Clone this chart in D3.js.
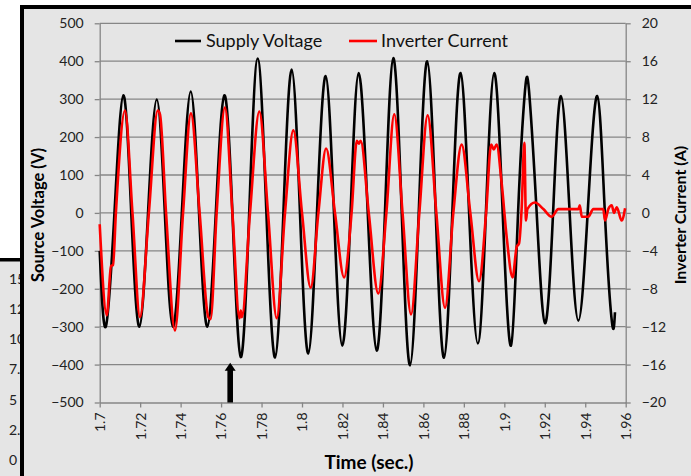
<!DOCTYPE html>
<html>
<head>
<meta charset="utf-8">
<script src="https://cdnjs.cloudflare.com/ajax/libs/d3/7.8.5/d3.min.js"></script>
<style>
  body { margin: 0; background: #fff; }
  svg { display: block; font-family: Lato, "Open Sans", sans-serif; }
</style>
</head>
<body>
<script>
// x axis tick labels (seconds)
const timeTicks = [1.7, 1.72, 1.74, 1.76, 1.78, 1.8, 1.82, 1.84, 1.86, 1.88, 1.9, 1.92, 1.94, 1.96];
// left axis ticks (V)
const voltTicks = [-500, -400, -300, -200, -100, 0, 100, 200, 300, 400, 500];
// right axis ticks (A)
const currentTicks = [-20, -16, -12, -8, -4, 0, 4, 8, 12, 16, 20];

// supply voltage [time, V] (peaks, troughs, crossings)
const supplyVoltage = [
  [1.7000, -100], [1.7030, -300], [1.7073, 0], [1.7117, 310], [1.7156, 0],
  [1.7196, -300], [1.7239, 0], [1.7282, 299], [1.7322, 0], [1.7362, -300],
  [1.7406, 0], [1.7450, 320], [1.7491, 0], [1.7532, -300], [1.7574, 0],
  [1.7616, 310], [1.7656, 0], [1.7697, -380], [1.7739, 0], [1.7781, 407],
  [1.7824, 0], [1.7867, -381], [1.7908, 0], [1.7949, 378], [1.7990, 0],
  [1.8031, -371], [1.8074, 0], [1.8117, 361], [1.8158, 0], [1.8199, -350],
  [1.8240, 0], [1.8280, 369], [1.8325, 0], [1.8369, -363], [1.8410, 0],
  [1.8451, 408], [1.8493, 0], [1.8534, -402], [1.8577, 0], [1.8619, 400],
  [1.8661, 0], [1.8702, -382], [1.8743, 0], [1.8784, 369], [1.8826, 0],
  [1.8869, -344], [1.8909, 0], [1.8950, 369], [1.8992, 0], [1.9033, -350],
  [1.9068, 0], [1.9102, 321], [1.9124, 310], [1.9160, 0], [1.9201, -291],
  [1.9241, 0], [1.9280, 308], [1.9323, 0], [1.9366, -284], [1.9412, 0],
  [1.9459, 308], [1.9497, 0], [1.9532, -288], [1.9547, -262]
];

// inverter current [time, A]
const inverterCurrent = [
  [1.7000, -1.2], [1.7035, -10.8], [1.7056, -5.6], [1.7066, -5.5], [1.7080, 0],
  [1.7125, 10.8], [1.7162, 0], [1.7199, -11.0], [1.7243, 0], [1.7287, 10.8],
  [1.7298, 10.4], [1.7328, 0], [1.7372, -12.4], [1.7412, 0], [1.7451, 10.5],
  [1.7494, 0], [1.7537, -11.0], [1.7548, -11.2], [1.7578, 0], [1.7619, 11.1],
  [1.7656, 0], [1.7691, -11.1], [1.7697, -10.3], [1.7703, -11.0], [1.7743, 0],
  [1.7789, 10.7], [1.7832, 0], [1.7875, -11.1], [1.7916, 0], [1.7957, 8.7],
  [1.8000, 0], [1.8043, -7.9], [1.8081, 0], [1.8119, 6.8], [1.8163, 0],
  [1.8208, -6.8], [1.8245, 0], [1.8271, 7.6], [1.8281, 7.3], [1.8290, 7.6],
  [1.8330, 0], [1.8377, -8.5], [1.8417, 0], [1.8456, 10.4], [1.8497, 0],
  [1.8539, -10.7], [1.8580, 0], [1.8621, 10.3], [1.8664, 0], [1.8707, -10.0],
  [1.8748, 0], [1.8789, 7.2], [1.8832, 0], [1.8875, -7.2], [1.8910, 0],
  [1.8935, 7.2], [1.8948, 6.7], [1.8962, 7.2], [1.8987, 3.1], [1.9012, -2.6],
  [1.9041, -6.8], [1.9061, -3.6], [1.9073, -3.2], [1.9086, 0.6], [1.9099, 7.4],
  [1.9107, -0.8], [1.9114, 0.4], [1.9152, 1.1], [1.9193, 0.4], [1.9234, -0.4],
  [1.9267, 0.4], [1.9366, 0.4], [1.9373, 0.8], [1.9383, -0.4], [1.9415, -0.4],
  [1.9440, 0.4], [1.9489, 0.4], [1.9498, -0.8], [1.9514, 0.4], [1.9531, 0.8],
  [1.9542, 0], [1.9556, 0.6], [1.9580, -0.8], [1.9597, 0.5]
];

// arrow marker time (s)
const arrowTime = 1.7645;

// labels of the chart partly hidden behind this one
const hiddenTicks = [0, 2.5, 5, 7.5, 10, 12.5, 15];

const W = 691, H = 476;
const margin = { left: 99.7, right: 625.7, top: 23.3, bottom: 402.5 };
const grid = "#868686";

const svg = d3.select("body").append("svg").attr("width", W).attr("height", H);

// chart behind (left strip)
svg.append("rect").attr("x", 0).attr("y", 258).attr("width", 24).attr("height", H - 258).attr("fill", "#e5e5e5");
svg.append("rect").attr("x", 0).attr("y", 258).attr("width", 24).attr("height", 3.5).attr("fill", "#000");
const yHidden = d3.scaleLinear().domain([0, 15]).range([460, 279]);
svg.append("g").selectAll("text").data(hiddenTicks).enter().append("text")
  .attr("x", 9).attr("y", d => yHidden(d)).attr("dy", "0.35em")
  .style("font-size", "14px").style("fill", "#222")
  .text(d => d);

// main chart frame
svg.append("rect").attr("x", 22).attr("y", 7).attr("width", W).attr("height", H)
  .attr("fill", "#e5e5e5").attr("stroke", "#000").attr("stroke-width", 4);

const x = d3.scaleLinear().domain([1.7, 1.96]).range([margin.left, margin.right]);
const yV = d3.scaleLinear().domain([-500, 500]).range([margin.bottom, margin.top]);
const yI = d3.scaleLinear().domain([-20, 20]).range([margin.bottom, margin.top]);

// gridlines
svg.append("g").selectAll("line").data(voltTicks.filter(d => d > -500)).enter().append("line")
  .attr("x1", margin.left).attr("x2", margin.right)
  .attr("y1", d => yV(d)).attr("y2", d => yV(d))
  .attr("stroke", grid).attr("stroke-width", 1.3);

function styleAxis(g) {
  g.selectAll(".domain").attr("stroke", grid).attr("stroke-width", 1.3);
  g.selectAll(".tick line").attr("stroke", grid).attr("stroke-width", 1.3);
  g.selectAll("text").style("font-size", "14px").style("fill", "#222").style("font-family", "Lato, sans-serif");
}

svg.append("g").attr("transform", `translate(${margin.left},0)`)
  .call(d3.axisLeft(yV).tickValues(voltTicks).tickSize(5).tickSizeOuter(0).tickPadding(11))
  .call(styleAxis);

svg.append("g").attr("transform", `translate(${margin.right},0)`)
  .call(d3.axisRight(yI).tickValues(currentTicks).tickSize(5).tickSizeOuter(0).tickPadding(11))
  .call(styleAxis);

const xAxis = svg.append("g").attr("transform", `translate(0,${margin.bottom})`)
  .call(d3.axisBottom(x).tickValues(timeTicks).tickFormat(d3.format("")).tickSize(5).tickSizeOuter(0))
  .call(styleAxis);
xAxis.selectAll("text")
  .attr("transform", "rotate(-90)")
  .attr("x", -10).attr("y", 0).attr("dy", "0.35em")
  .style("text-anchor", "end");

// series
const lineV = d3.line().x(d => x(d[0])).y(d => yV(d[1])).curve(d3.curveNatural);
const lineI = d3.line().x(d => x(d[0])).y(d => yI(d[1])).curve(d3.curveMonotoneX);

svg.append("path").datum(supplyVoltage).attr("d", lineV)
  .attr("fill", "none").attr("stroke", "#000").attr("stroke-width", 2.6).attr("stroke-linejoin", "round");
svg.append("path").datum(inverterCurrent).attr("d", lineI)
  .attr("fill", "none").attr("stroke", "#ff0000").attr("stroke-width", 2.6).attr("stroke-linejoin", "round");

// arrow
const ax = x(arrowTime), aTop = yV(-395), aBase = yV(-500);
svg.append("path")
  .attr("d", `M${ax - 2.8},${aBase} L${ax - 2.8},${aTop + 8} L${ax - 5.5},${aTop + 8} L${ax},${aTop} L${ax + 5.5},${aTop + 8} L${ax + 2.8},${aTop + 8} L${ax + 2.8},${aBase} Z`)
  .attr("fill", "#000");

// legend
const legend = svg.append("g").style("font-size", "18px").style("fill", "#111");
legend.append("line").attr("x1", 175).attr("x2", 201).attr("y1", 41).attr("y2", 41).attr("stroke", "#000").attr("stroke-width", 2.6);
legend.append("text").attr("x", 206).attr("y", 41).attr("dy", "0.35em").text("Supply Voltage");
legend.append("line").attr("x1", 349).attr("x2", 377).attr("y1", 41).attr("y2", 41).attr("stroke", "#ff0000").attr("stroke-width", 2.6);
legend.append("text").attr("x", 381).attr("y", 41).attr("dy", "0.35em").text("Inverter Current");

// axis titles
const midY = 215;
svg.append("text").attr("transform", `translate(38.5,${midY}) rotate(-90)`)
  .attr("dy", "0.35em").style("text-anchor", "middle").style("font-weight", "bold").style("font-size", "16.5px")
  .text("Source Voltage (V)");
svg.append("text").attr("transform", `translate(680.5,${midY}) rotate(-90)`)
  .attr("dy", "0.35em").style("text-anchor", "middle").style("font-weight", "bold").style("font-size", "16px")
  .text("Inverter Current (A)");
svg.append("text").attr("x", 369).attr("y", 462).attr("dy", "0.35em")
  .style("text-anchor", "middle").style("font-weight", "bold").style("font-size", "19px")
  .text("Time (sec.)");
</script>
</body>
</html>
